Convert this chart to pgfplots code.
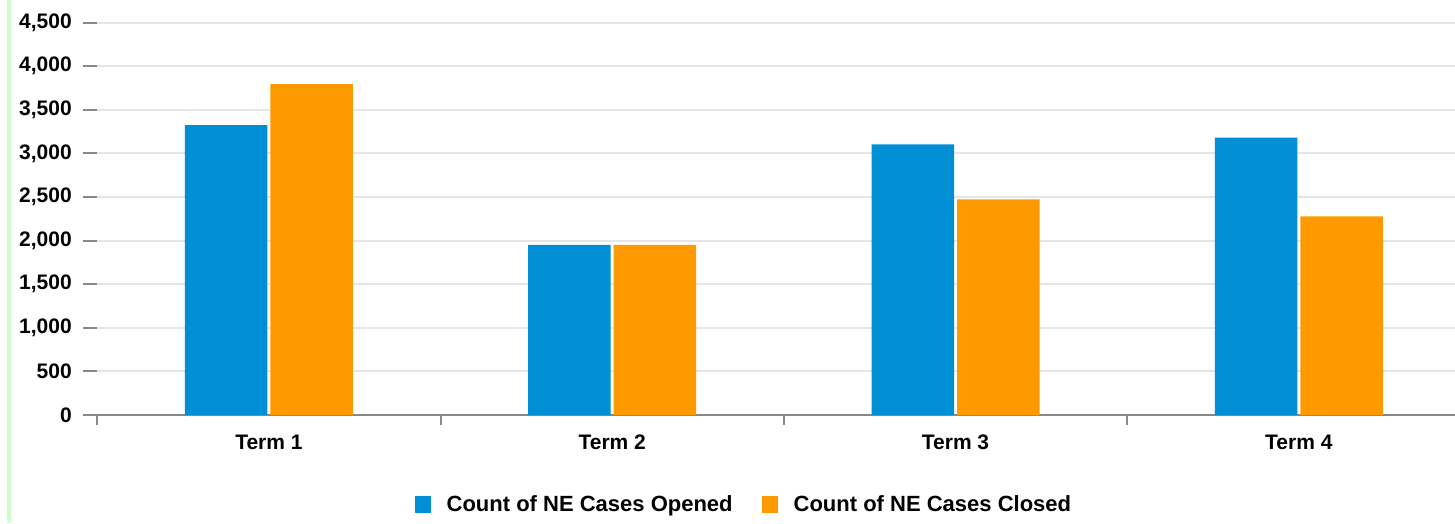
\documentclass[border=0pt]{standalone}
\usepackage{pgfplots}
\pgfplotsset{compat=1.18}
\usepackage{fontspec}
\setmainfont{Liberation Sans}
\definecolor{cblue}{RGB}{0,143,213}
\definecolor{corange}{RGB}{255,153,0}
\definecolor{gridgray}{RGB}{230,230,230}
\definecolor{axgray}{RGB}{136,136,136}
\definecolor{greenline}{RGB}{204,255,204}
\begin{document}
\begin{tikzpicture}
\useasboundingbox (0,0) rectangle (1455pt,523pt);
\fill[greenline] (7pt,0) rectangle (11pt,523pt);
\begin{axis}[
  at={(97.3pt,108pt)}, anchor=south west,
  scale only axis, width=1357.7pt, height=392.3pt,
  xmin=-0.5, xmax=3.455, ymin=0, ymax=4500,
  ybar=3pt, bar width=82.5pt,
  axis x line=bottom, axis y line=left,
  y axis line style={draw=none},
  x axis line style={-, draw=axgray, line width=2pt},
  tick align=outside,
  major tick length=14pt,
  minor tick length=10pt,
  tick style={draw=axgray, line width=2pt},
  xtick={0,1,2,3},
  xticklabels={Term 1,Term 2,Term 3,Term 4},
  major x tick style={draw=none},
  minor x tick style={draw=axgray, line width=2pt},
  minor xtick={-0.5,0.5,1.5,2.5},
  ytick={0,500,...,4500},
  ymajorgrids,
  major grid style={draw=gridgray, line width=2pt},
  scaled y ticks=false,
  /pgf/number format/.cd, 1000 sep={,}, assume math mode=true,
  /pgfplots/.cd,
  tick label style={font=\bfseries\fontsize{21}{21}\selectfont, text=black},
  yticklabel style={anchor=east, xshift=-8pt},
  xticklabel style={anchor=north, yshift=-2pt, text height=15pt, text depth=0pt},
  legend columns=2,
  legend style={at={(0.4755,-0.2287)}, anchor=center, draw=none, fill=none,
    font=\bfseries\fontsize{22}{22}\selectfont,
    nodes={inner sep=0pt},
    /tikz/every even column/.append style={column sep=29pt}},
  legend image code/.code={\fill[#1,draw=none] (0pt,-8.5pt) rectangle (16.5pt,8.5pt); \path (32pt,0pt);},
]
\addplot[fill=cblue, draw=none] coordinates {(0,3325) (1,1951) (2,3103) (3,3183)};
\addplot[fill=corange, draw=none] coordinates {(0,3795) (1,1951) (2,2474) (3,2279)};
\addlegendentry{Count of NE Cases Opened}
\addlegendentry{Count of NE Cases Closed}
\end{axis}
\end{tikzpicture}
\end{document}
